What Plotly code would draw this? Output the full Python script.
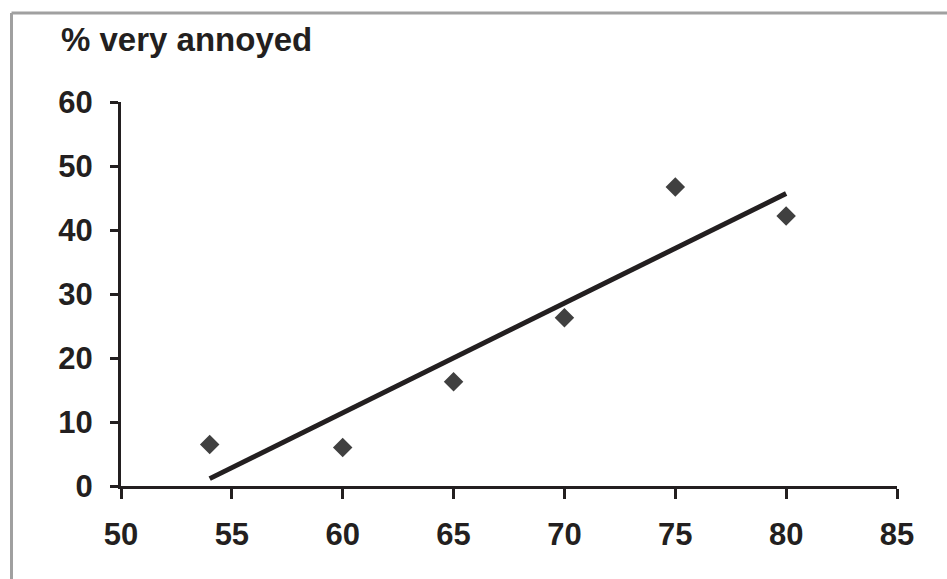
import numpy as np
import plotly.graph_objects as go

# Data
noise_db = [54, 60, 65, 70, 75, 80]
pct_very_annoyed = [6.5, 6.0, 16.3, 26.3, 46.7, 42.2]
x_ticks = [50, 55, 60, 65, 70, 75, 80, 85]
y_ticks = [0, 10, 20, 30, 40, 50, 60]
y_title = "% very annoyed"

# Linear trend line (least squares fit of the data)
slope, intercept = np.polyfit(noise_db, pct_very_annoyed, 1)
trend_x = [min(noise_db), max(noise_db)]
trend_y = [slope * v + intercept for v in trend_x]

W, H = 947, 579
L, R, T, B = 121, 50, 102, 93
pw, ph = W - L - R, H - T - B

ink = "#231f20"
font = "Liberation Sans, Arial, sans-serif"

fig = go.Figure()
fig.add_trace(go.Scatter(x=noise_db, y=pct_very_annoyed, mode="markers",
                         marker=dict(symbol="diamond", size=15, color="#404040",
                                     line=dict(width=0)),
                         showlegend=False, cliponaxis=False))
fig.add_trace(go.Scatter(x=trend_x, y=trend_y, mode="lines",
                         line=dict(color=ink, width=5),
                         showlegend=False, cliponaxis=False))

def px_x(p):
    return (p - L) / pw

def px_y(p):
    return (H - B - p) / ph

fig.update_layout(
    width=W, height=H,
    margin=dict(l=L, r=R, t=T, b=B),
    paper_bgcolor="white", plot_bgcolor="white",
    font=dict(family=font, color=ink),
    xaxis=dict(range=[50, 85], tickvals=x_ticks, showgrid=False, zeroline=False,
               showline=True, linecolor=ink, linewidth=3,
               ticks="outside", ticklen=10, tickwidth=3, tickcolor=ink,
               ticklabelstandoff=9,
               tickfont=dict(family=font, size=31, color=ink, weight="bold")),
    yaxis=dict(range=[0, 60], tickvals=y_ticks, showgrid=False, zeroline=False,
               showline=True, linecolor=ink, linewidth=3,
               ticks="outside", ticklen=8, tickwidth=3, tickcolor=ink,
               ticklabelstandoff=11,
               tickfont=dict(family=font, size=31, color=ink, weight="bold")),
    annotations=[dict(text="<b>" + y_title + "</b>", xref="paper", yref="paper",
                      x=px_x(59), y=px_y(39), xanchor="left", yanchor="middle",
                      showarrow=False, font=dict(family=font, size=33, color=ink))],
    shapes=[
        dict(type="line", xref="paper", yref="paper", x0=px_x(11.5), x1=px_x(960),
             y0=px_y(13), y1=px_y(13), line=dict(color="#a0a0a0", width=3)),
        dict(type="line", xref="paper", yref="paper", x0=px_x(11.5), x1=px_x(11.5),
             y0=px_y(13), y1=px_y(600), line=dict(color="#a0a0a0", width=3)),
    ],
)

fig.write_html("out.html", config={"displayModeBar": False},
               post_script="document.body.style.margin='0';")
